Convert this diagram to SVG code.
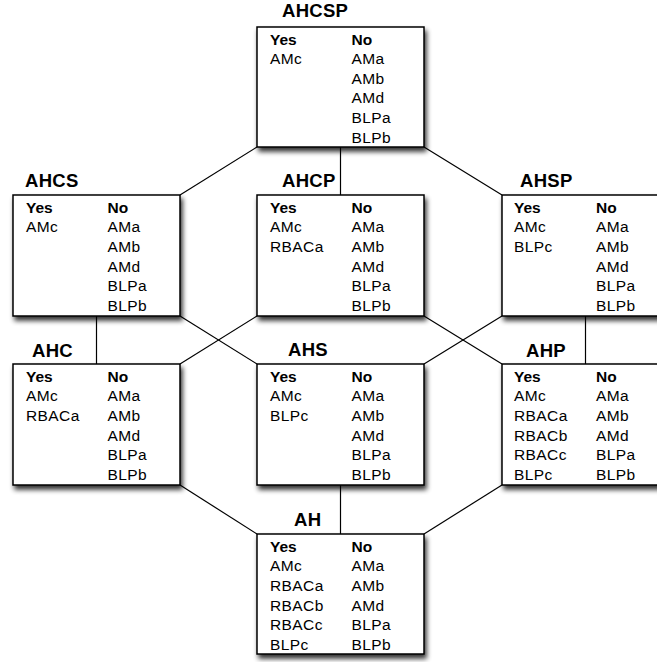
<svg xmlns="http://www.w3.org/2000/svg" width="657" height="662" viewBox="0 0 657 662">
<style>
.box{fill:#fff;stroke:#000;stroke-width:1.5;filter:url(#sh)}
.t{font-family:"Liberation Sans",Arial,sans-serif;font-weight:bold;font-size:18.5px;fill:#000;letter-spacing:0.3px}
.h{font-family:"Liberation Sans",Arial,sans-serif;font-weight:bold;font-size:15.5px;fill:#000}
.r{font-family:"Liberation Sans",Arial,sans-serif;font-size:15.5px;fill:#000;letter-spacing:0.4px}
.c line{stroke:#000;stroke-width:1.2}
</style>
<defs>
<filter id="sh" x="-10%" y="-10%" width="130%" height="140%">
<feGaussianBlur in="SourceAlpha" stdDeviation="2.5"/>
<feOffset dx="2" dy="4" result="b"/>
<feComponentTransfer><feFuncA type="linear" slope="0.8"/></feComponentTransfer>
<feMerge><feMergeNode/><feMergeNode in="SourceGraphic"/></feMerge>
</filter>
</defs>
<rect width="657" height="662" fill="#fff"/>
<g class="c" id="connectors">
<line x1="340.5" y1="147" x2="340.5" y2="195"/>
<line x1="96.5" y1="316" x2="96.5" y2="364"/>
<line x1="585.5" y1="316" x2="585.5" y2="364"/>
<line x1="340.5" y1="485" x2="340.5" y2="534"/>
<line x1="257" y1="147" x2="180" y2="195"/>
<line x1="424" y1="147" x2="502" y2="195"/>
<line x1="180" y1="316" x2="257" y2="364"/>
<line x1="257" y1="316" x2="180" y2="364"/>
<line x1="424" y1="316" x2="502" y2="364"/>
<line x1="502" y1="316" x2="424" y2="364"/>
<line x1="180" y1="485" x2="257" y2="534"/>
<line x1="502" y1="485" x2="424" y2="534"/>
</g>
<g id="AHCSP">
<text class="t" x="282" y="17">AHCSP</text>
<rect class="box" x="257" y="27" width="167" height="120"/>
<text class="h" x="270" y="44.5">Yes</text><text class="h" x="351.5" y="44.5">No</text>
<text class="r" x="270" y="64.1">AMc</text>
<text class="r" x="351.5" y="64.1">AMa</text><text class="r" x="351.5" y="83.7">AMb</text><text class="r" x="351.5" y="103.3">AMd</text><text class="r" x="351.5" y="122.9">BLPa</text><text class="r" x="351.5" y="142.5">BLPb</text>
</g>
<g id="AHCS">
<text class="t" x="25" y="187">AHCS</text>
<rect class="box" x="13" y="195" width="167" height="121"/>
<text class="h" x="26" y="212.7">Yes</text><text class="h" x="107.5" y="212.7">No</text>
<text class="r" x="26" y="232.3">AMc</text>
<text class="r" x="107.5" y="232.3">AMa</text><text class="r" x="107.5" y="251.9">AMb</text><text class="r" x="107.5" y="271.5">AMd</text><text class="r" x="107.5" y="291.1">BLPa</text><text class="r" x="107.5" y="310.7">BLPb</text>
</g>
<g id="AHCP">
<text class="t" x="282" y="187">AHCP</text>
<rect class="box" x="257" y="195" width="167" height="121"/>
<text class="h" x="270" y="212.7">Yes</text><text class="h" x="351.5" y="212.7">No</text>
<text class="r" x="270" y="232.3">AMc</text><text class="r" x="270" y="251.9">RBACa</text>
<text class="r" x="351.5" y="232.3">AMa</text><text class="r" x="351.5" y="251.9">AMb</text><text class="r" x="351.5" y="271.5">AMd</text><text class="r" x="351.5" y="291.1">BLPa</text><text class="r" x="351.5" y="310.7">BLPb</text>
</g>
<g id="AHSP">
<text class="t" x="520" y="187">AHSP</text>
<rect class="box" x="502" y="195" width="167" height="121"/>
<text class="h" x="514" y="212.7">Yes</text><text class="h" x="596" y="212.7">No</text>
<text class="r" x="514" y="232.3">AMc</text><text class="r" x="514" y="251.9">BLPc</text>
<text class="r" x="596" y="232.3">AMa</text><text class="r" x="596" y="251.9">AMb</text><text class="r" x="596" y="271.5">AMd</text><text class="r" x="596" y="291.1">BLPa</text><text class="r" x="596" y="310.7">BLPb</text>
</g>
<g id="AHC">
<text class="t" x="32" y="357">AHC</text>
<rect class="box" x="13" y="364" width="167" height="121"/>
<text class="h" x="26" y="381.7">Yes</text><text class="h" x="107.5" y="381.7">No</text>
<text class="r" x="26" y="401.3">AMc</text><text class="r" x="26" y="420.9">RBACa</text>
<text class="r" x="107.5" y="401.3">AMa</text><text class="r" x="107.5" y="420.9">AMb</text><text class="r" x="107.5" y="440.5">AMd</text><text class="r" x="107.5" y="460.1">BLPa</text><text class="r" x="107.5" y="479.7">BLPb</text>
</g>
<g id="AHS">
<text class="t" x="288" y="356">AHS</text>
<rect class="box" x="257" y="364" width="167" height="121"/>
<text class="h" x="270" y="381.7">Yes</text><text class="h" x="351.5" y="381.7">No</text>
<text class="r" x="270" y="401.3">AMc</text><text class="r" x="270" y="420.9">BLPc</text>
<text class="r" x="351.5" y="401.3">AMa</text><text class="r" x="351.5" y="420.9">AMb</text><text class="r" x="351.5" y="440.5">AMd</text><text class="r" x="351.5" y="460.1">BLPa</text><text class="r" x="351.5" y="479.7">BLPb</text>
</g>
<g id="AHP">
<text class="t" x="526" y="357">AHP</text>
<rect class="box" x="502" y="364" width="167" height="121"/>
<text class="h" x="514" y="381.7">Yes</text><text class="h" x="596" y="381.7">No</text>
<text class="r" x="514" y="401.3">AMc</text><text class="r" x="514" y="420.9">RBACa</text><text class="r" x="514" y="440.5">RBACb</text><text class="r" x="514" y="460.1">RBACc</text><text class="r" x="514" y="479.7">BLPc</text>
<text class="r" x="596" y="401.3">AMa</text><text class="r" x="596" y="420.9">AMb</text><text class="r" x="596" y="440.5">AMd</text><text class="r" x="596" y="460.1">BLPa</text><text class="r" x="596" y="479.7">BLPb</text>
</g>
<g id="AH">
<text class="t" x="294" y="526">AH</text>
<rect class="box" x="257" y="534" width="167" height="120"/>
<text class="h" x="270" y="551.7">Yes</text><text class="h" x="351.5" y="551.7">No</text>
<text class="r" x="270" y="571.3">AMc</text><text class="r" x="270" y="590.9">RBACa</text><text class="r" x="270" y="610.5">RBACb</text><text class="r" x="270" y="630.1">RBACc</text><text class="r" x="270" y="649.7">BLPc</text>
<text class="r" x="351.5" y="571.3">AMa</text><text class="r" x="351.5" y="590.9">AMb</text><text class="r" x="351.5" y="610.5">AMd</text><text class="r" x="351.5" y="630.1">BLPa</text><text class="r" x="351.5" y="649.7">BLPb</text>
</g>
</svg>
